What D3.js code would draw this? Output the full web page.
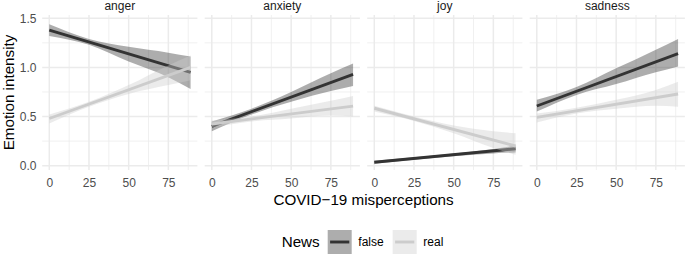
<!DOCTYPE html>
<html>
<head>
<meta charset="utf-8">
<script src="https://cdn.jsdelivr.net/npm/d3@7"></script>
<style>
  body { margin: 0; background: #fff; }
  text { font-family: "Liberation Sans", Arial, sans-serif; }
</style>
</head>
<body>
<div id="chart"></div>
<script>
// facets and groups
var emotions = ["anger", "anxiety", "joy", "sadness"];
var newsTypes = ["false", "real"];
var newsColor = ["#333333", "#cccccc"];

var xTicks = [0, 25, 50, 75];
var xMinor = [12.5, 37.5, 62.5, 87.5];
var yTicks = [0, 0.5, 1.0, 1.5];
var yMinor = [0.25, 0.75, 1.25];

// x positions where the fit and its band were read
var fitX = [0, 89];
var bandX = [0, 25, 50, 75, 89];

// fitted line start / end, one row per emotion
var fitFalse = [[1.38, 0.95], [0.40, 0.93], [0.035, 0.172], [0.607, 1.14]];
var fitReal = [[0.48, 1.00], [0.424, 0.606], [0.584, 0.20], [0.492, 0.729]];

// confidence band, lower / upper at bandX
var lowFalse = [
    [1.32, 1.23, 1.06, 0.90, 0.78],
    [0.35, 0.52, 0.65, 0.76, 0.81],
    [0.02, 0.06, 0.095, 0.125, 0.135],
    [0.55, 0.72, 0.83, 0.95, 1.01]
];
var highFalse = [
    [1.44, 1.29, 1.21, 1.15, 1.11],
    [0.45, 0.58, 0.75, 0.94, 1.04],
    [0.05, 0.085, 0.125, 0.17, 0.205],
    [0.67, 0.80, 0.99, 1.18, 1.29]
];
var lowReal = [
    [0.43, 0.60, 0.73, 0.82, 0.87],
    [0.39, 0.45, 0.48, 0.51, 0.50],
    [0.55, 0.455, 0.33, 0.18, 0.11],
    [0.44, 0.53, 0.58, 0.61, 0.60]
];
var highReal = [
    [0.52, 0.65, 0.82, 1.02, 1.12],
    [0.46, 0.50, 0.58, 0.66, 0.71],
    [0.61, 0.50, 0.41, 0.35, 0.33],
    [0.53, 0.59, 0.67, 0.77, 0.855]
];

var fits = [fitFalse, fitReal];
var lows = [lowFalse, lowReal];
var highs = [highFalse, highReal];

drawChart();

function drawChart() {
    var width = 685,
        height = 254;
    var panelLeft = 42.2,
        panelTop = 15,
        panelW = 155.2,
        panelH = 155,
        gap = 7.3;

    var svg = d3.select("#chart").append("svg")
        .attr("width", width)
        .attr("height", height);

    var x = d3.scaleLinear().domain([-4.47, 93.3]).range([0, panelW]);
    var y = d3.scaleLinear().domain([-0.044, 1.533]).range([panelTop + panelH, panelTop]);

    var area = d3.area()
        .curve(d3.curveMonotoneX)
        .x(function (d) { return x(d.x); })
        .y0(function (d) { return y(d.lo); })
        .y1(function (d) { return y(d.hi); });

    var line = d3.line()
        .x(function (d) { return x(d.x); })
        .y(function (d) { return y(d.y); });

    emotions.forEach(function (emo, i) {
        var g = svg.append("g")
            .attr("transform", "translate(" + (panelLeft + i * (panelW + gap)) + ",0)");

        // grid
        g.selectAll(".ymin").data(yMinor).enter().append("line")
            .attr("x1", 0).attr("x2", panelW)
            .attr("y1", y).attr("y2", y)
            .attr("stroke", "#ebebeb").attr("stroke-width", 0.75);
        g.selectAll(".xmin").data(xMinor).enter().append("line")
            .attr("x1", x).attr("x2", x)
            .attr("y1", panelTop).attr("y2", panelTop + panelH)
            .attr("stroke", "#ebebeb").attr("stroke-width", 0.75);
        g.selectAll(".ymaj").data(yTicks).enter().append("line")
            .attr("x1", 0).attr("x2", panelW)
            .attr("y1", y).attr("y2", y)
            .attr("stroke", "#ebebeb").attr("stroke-width", 1.5);
        g.selectAll(".xmaj").data(xTicks).enter().append("line")
            .attr("x1", x).attr("x2", x)
            .attr("y1", panelTop).attr("y2", panelTop + panelH)
            .attr("stroke", "#ebebeb").attr("stroke-width", 1.5);

        // ribbon then line, per group
        newsTypes.forEach(function (n, k) {
            var band = bandX.map(function (bx, j) {
                return { x: bx, lo: lows[k][i][j], hi: highs[k][i][j] };
            });
            var fit = fitX.map(function (fx, j) {
                return { x: fx, y: fits[k][i][j] };
            });
            g.append("path")
                .attr("d", area(band))
                .attr("fill", newsColor[k])
                .attr("fill-opacity", 0.4);
            g.append("path")
                .attr("d", line(fit))
                .attr("fill", "none")
                .attr("stroke", newsColor[k])
                .attr("stroke-width", 2.9);
        });

        // strip label
        g.append("text")
            .attr("x", panelW / 2)
            .attr("y", 9.8)
            .attr("text-anchor", "middle")
            .attr("font-size", "12px")
            .attr("fill", "#1a1a1a")
            .text(emo);

        var gx = g.append("g")
            .attr("transform", "translate(0," + (panelTop + panelH) + ")")
            .call(d3.axisBottom(x).tickValues(xTicks).tickSize(0).tickPadding(8.5));
        gx.select(".domain").remove();
        gx.selectAll("text")
            .attr("font-family", "Liberation Sans, Arial, sans-serif")
            .attr("font-size", "12px")
            .attr("fill", "#4d4d4d");
    });

    var gy = svg.append("g")
        .attr("transform", "translate(" + panelLeft + ",0)")
        .call(d3.axisLeft(y).tickValues(yTicks).tickSize(0).tickPadding(5.8)
            .tickFormat(d3.format(".1f")));
    gy.select(".domain").remove();
    gy.selectAll("text")
        .attr("font-family", "Liberation Sans, Arial, sans-serif")
        .attr("font-size", "12px")
        .attr("fill", "#4d4d4d");

    // axis titles
    var plotRight = panelLeft + 4 * panelW + 3 * gap;
    svg.append("text")
        .attr("x", (panelLeft + plotRight) / 2)
        .attr("y", 204.5)
        .attr("text-anchor", "middle")
        .attr("font-size", "15.2px")
        .attr("fill", "#000")
        .text("COVID\u221219 misperceptions");

    svg.append("text")
        .attr("transform", "translate(14," + (panelTop + panelH / 2) + ") rotate(-90)")
        .attr("text-anchor", "middle")
        .attr("font-size", "15.2px")
        .attr("fill", "#000")
        .text("Emotion intensity");

    // legend
    var legend = svg.append("g");
    legend.append("text")
        .attr("x", 281.7)
        .attr("y", 246.8)
        .attr("font-size", "15.2px")
        .attr("fill", "#000")
        .text("News");

    var keyX = [327.7, 392.7];
    newsTypes.forEach(function (n, k) {
        var kg = legend.append("g")
            .attr("transform", "translate(" + keyX[k] + ",230)");
        kg.append("rect")
            .attr("width", 24).attr("height", 24)
            .attr("fill", newsColor[k])
            .attr("fill-opacity", 0.4);
        kg.append("line")
            .attr("x1", 2.4).attr("x2", 21.6)
            .attr("y1", 12).attr("y2", 12)
            .attr("stroke", newsColor[k])
            .attr("stroke-width", 2.9);
        kg.append("text")
            .attr("x", 30.6)
            .attr("y", 16.3)
            .attr("font-size", "12px")
            .attr("fill", "#000")
            .text(n);
    });
}
</script>
</body>
</html>
